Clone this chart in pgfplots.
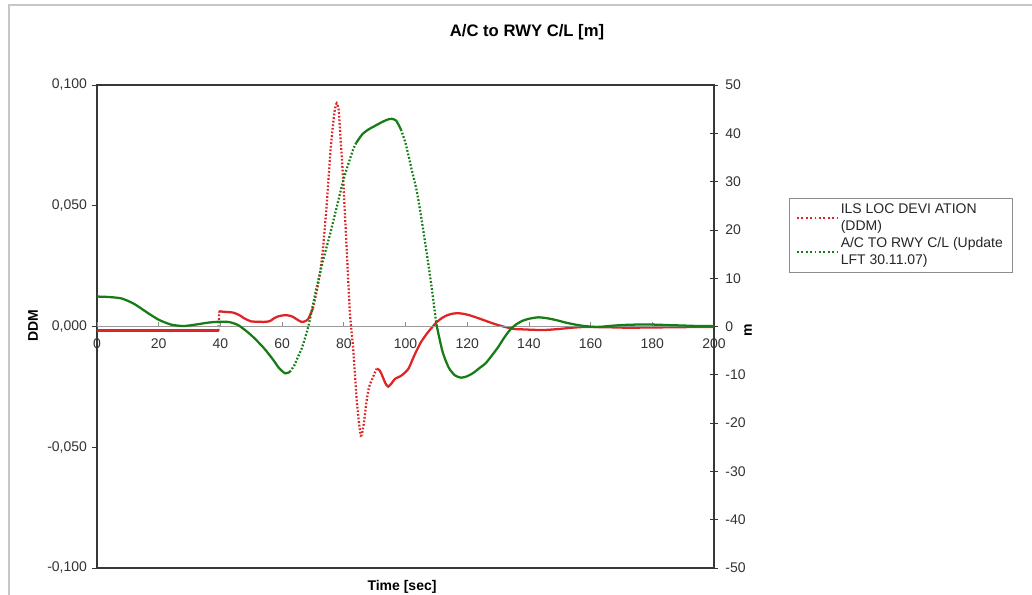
\documentclass[border=0pt]{standalone}
\usepackage{fontspec}
\setmainfont{Liberation Sans}
\usepackage{pgfplots}
\usepackage{pgfplotstable}
\pgfplotsset{compat=1.18}

\definecolor{ddmred}{RGB}{222,36,36}
\definecolor{rwygreen}{RGB}{22,124,22}
\definecolor{framegray}{RGB}{55,55,55}

% ILS localizer deviation, DDM (left axis)
\pgfplotstableread{
t ddm
0 -0.0017
10 -0.0017
20 -0.0017
30 -0.0017
39.4 -0.0017
39.6 0.0063
42 0.0060
44 0.0058
46 0.0048
48 0.0032
50 0.0021
52 0.0020
54 0.0019
56 0.0022
57.5 0.0035
59 0.0043
61 0.0047
63 0.0043
65 0.0028
66.3 0.0019
67.5 0.0022
68.5 0.0032
70 0.0075
71.5 0.0163
72.5 0.0240
73.3 0.0330
74.4 0.0495
75.8 0.0744
77 0.0890
77.7 0.0924
78.3 0.0900
78.8 0.0810
79.8 0.0606
80.9 0.0330
82 0.0054
83.1 -0.0100
84.2 -0.0307
85.5 -0.0452
86.5 -0.0400
87.4 -0.0307
88.2 -0.0250
89 -0.0224
90.6 -0.0175
91.5 -0.0180
92.2 -0.0196
93.5 -0.0235
94.4 -0.0249
95.5 -0.0235
96.6 -0.0217
98.7 -0.0203
100.9 -0.0176
102.5 -0.0130
103.6 -0.0100
105 -0.0065
106.9 -0.0030
108.5 -0.0005
110.1 0.0018
111.8 0.0035
113.4 0.0046
115.2 0.0053
117.1 0.0055
119 0.0052
120.9 0.0046
123.5 0.0035
126.3 0.0022
129 0.0010
131.7 0.0000
135 -0.0010
138.2 -0.0012
142 -0.0014
145.8 -0.0014
150 -0.0010
154 -0.0005
158 -0.0002
165 -0.0003
172 -0.0005
180 -0.0004
188 -0.0003
195 -0.0002
200 -0.0002
}\ddmdata

% Aircraft to runway centre line, metres (right axis)
\pgfplotstableread{
t m
0 6.2
4 6.1
8 5.8
12 4.7
16 3.0
20 1.4
24 0.4
28 0.1
32 0.4
36 0.8
40 1.0
43 0.9
46 0.2
50 -1.8
54 -4.4
57 -6.8
59 -8.6
61 -9.7
62.5 -9.4
64 -8.0
65 -6.5
66.5 -4.3
68.5 0.0
70 4.5
71.2 8.1
73 13.0
74.4 16.4
75.5 19.0
77.7 24.7
79.8 30.2
81.5 33.7
83 36.6
84 38.0
86 39.8
88 40.8
90 41.5
92 42.2
94 42.8
95.5 43.0
97 42.6
98.5 40.8
100 38.0
102 32.5
103.6 28.2
105 23.0
106.9 15.1
108.5 8.0
110 0.5
112 -5.2
114 -8.5
116 -10.1
118 -10.6
120 -10.3
122 -9.6
124 -8.6
126 -7.6
128 -6.0
130 -4.3
132 -2.3
134 -0.6
136 0.5
138 1.2
140 1.6
143 1.9
146 1.7
149 1.3
152 0.8
155 0.4
158 0.1
162 -0.1
166 0.1
170 0.3
175 0.4
180 0.4
185 0.3
190 0.2
195 0.1
200 0.1
}\rwydata

\pgfplotsset{
  every axis/.append style={
    scale only axis, width=462.75pt, height=362.25pt,
    at={(72.75pt,19.5pt)}, anchor=south west,
    xmin=0, xmax=200,
    font=\fontsize{10.5}{12.6}\selectfont,
    /pgf/number format/assume math mode=true,
  },
  solidline/.style={line width=1.7pt, smooth, tension=0.4},
  dotline/.style={line width=1.7pt, smooth, tension=0.4, dash pattern=on 1.3pt off 1.4pt},
}

\begin{document}
\begin{tikzpicture}
\useasboundingbox (0,0) rectangle (774pt,445.5pt);
\clip (0,0) rectangle (774pt,445.5pt);
% chart area border
\draw[black!22, line width=1.6pt] (6.75pt,-10pt) -- (6.75pt,441.75pt) -- (800pt,441.75pt);

% left axis: DDM
\begin{axis}[
  ymin=-0.1, ymax=0.1,
  axis line style={framegray, line width=1.2pt},
  xtick=\empty,
  ytick={-0.1,-0.05,0,0.05,0.1},
  yticklabels={{-0,100},{-0,050},{0,000},{0,050},{0,100}},
  ytick pos=left, tick align=outside, major tick length=4pt,
  tick style={framegray, line width=0.6pt},
  yticklabel style={text=black!80},
]
\addplot[ddmred, solidline, restrict x to domain=0:39.4] table[x=t,y=ddm] {\ddmdata};
\addplot[ddmred, dotline, restrict x to domain=39.4:39.6] table[x=t,y=ddm] {\ddmdata};
\addplot[ddmred, solidline, restrict x to domain=39.6:70] table[x=t,y=ddm] {\ddmdata};
\addplot[ddmred, dotline, restrict x to domain=70:90.6] table[x=t,y=ddm] {\ddmdata};
\addplot[ddmred, solidline, restrict x to domain=90.6:200] table[x=t,y=ddm] {\ddmdata};
\end{axis}

% time axis along the zero line
\begin{axis}[
  ymin=-0.1, ymax=0.1,
  axis x line=middle, axis y line=none,
  x axis line style={black!40, line width=0.7pt, -},
  xtick={0,20,...,200},
  tick align=inside, major tick length=3.5pt,
  tick style={black!45, line width=0.6pt},
  xticklabel style={text=black!80, yshift=-6pt},
]
\end{axis}

% right axis: metres
\begin{axis}[
  ymin=-50, ymax=50,
  axis x line=none, axis y line*=right,
  y axis line style={framegray, line width=1.2pt, -},
  ytick={-50,-40,...,50},
  tick align=center, major tick length=6pt,
  tick style={framegray, line width=0.6pt},
  yticklabel style={text=black!80, xshift=2pt},
  legend image code/.code={\draw[#1, line width=1.5pt, dash pattern=on 1.3pt off 2pt] (0pt,0pt) -- (30pt,0pt);},
  legend style={
    at={(1.1216,0.766)}, anchor=north west,
    draw=black!45, line width=0.6pt,
    font=\fontsize{10.5}{12.6}\selectfont,
    nodes={align=left, text=black!85},
    inner xsep=5pt, inner ysep=2pt, row sep=0pt,
  },
  legend cell align=left,
]
\addlegendimage{ddmred}
\addlegendentry{ILS LOC DEVI ATION\\(DDM)}
\addplot[rwygreen, solidline, restrict x to domain=0:62.5] table[x=t,y=m] {\rwydata};
\addlegendentry{A/C TO RWY C/L (Update\\LFT 30.11.07)}
\addplot[rwygreen, dotline, restrict x to domain=62.5:84, forget plot] table[x=t,y=m] {\rwydata};
\addplot[rwygreen, solidline, restrict x to domain=84:98.5, forget plot] table[x=t,y=m] {\rwydata};
\addplot[rwygreen, dotline, restrict x to domain=98.5:110, forget plot] table[x=t,y=m] {\rwydata};
\addplot[rwygreen, solidline, restrict x to domain=110:200, forget plot] table[x=t,y=m] {\rwydata};
\end{axis}

% titles
\node[font=\fontsize{12.5}{15}\selectfont\bfseries] at (395.25pt,421.5pt) {A/C to RWY C/L [m]};
\node[font=\fontsize{10.5}{12.6}\selectfont\bfseries, rotate=90] at (24.75pt,201pt) {DDM};
\node[font=\fontsize{10.5}{12.6}\selectfont\bfseries, rotate=90] at (561pt,198pt) {m};
\node[font=\fontsize{10.5}{12.6}\selectfont\bfseries, anchor=base] at (301.5pt,2.6pt) {Time [sec]};
\end{tikzpicture}
\end{document}
